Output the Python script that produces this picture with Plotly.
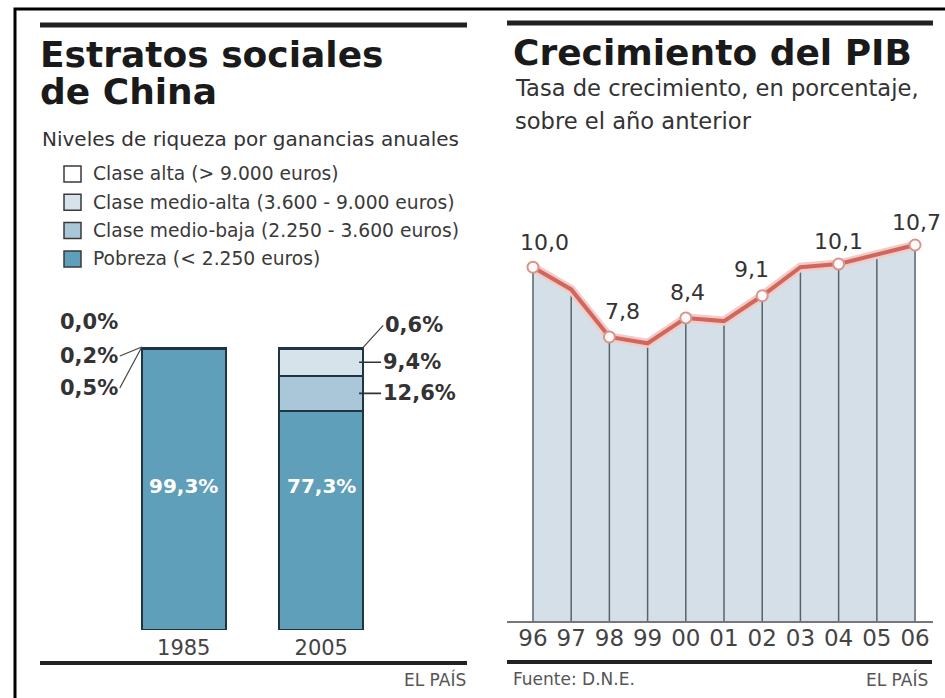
import plotly.graph_objects as go

W, H = 945, 698

# ---------------- data ----------------
bar_years = ["1985", "2005"]
strata_names = ["Pobreza (< 2.250 euros)",
                "Clase medio-baja (2.250 - 3.600 euros)",
                "Clase medio-alta (3.600 - 9.000 euros)",
                "Clase alta (> 9.000 euros)"]
pobreza = [99.3, 77.3]
medio_baja = [0.5, 12.6]
medio_alta = [0.2, 9.4]
alta = [0.0, 0.6]

gdp_years = ["96", "97", "98", "99", "00", "01", "02", "03", "04", "05", "06"]
gdp_growth = [10.0, 9.3, 7.8, 7.6, 8.4, 8.3, 9.1, 10.0, 10.1, 10.4, 10.7]
gdp_labeled = [True, False, True, False, True, False, True, False, True, False, True]

# ---------------- styles ----------------
strata_colors = ["#5f9fba", "#a9c7d9", "#d7e3eb", "#ffffff"]
bar_edge = "#1f3544"
txt = "#2b2b2b"
body_font = "DejaVu Sans"
title_font = "DejaVu Sans"


def fx(p):
    return p / W


def fy(p):
    return 1 - p / H


def fmt(v):
    return f"{v:.1f}".replace(".", ",")


fig = go.Figure()

# ---------------- left: stacked bars ----------------
series = [pobreza, medio_baja, medio_alta, alta]
bar_w = 0.61
for name, vals, col in zip(strata_names, series, strata_colors):
    fig.add_trace(go.Bar(
        x=bar_years, y=vals, name=name, width=bar_w,
        marker=dict(color=col, line=dict(color=bar_edge, width=2)),
        showlegend=False, xaxis="x", yaxis="y", hoverinfo="skip"))

# ---------------- right: GDP growth ----------------
y_lo, y_hi = -1.16, 12.12
n = len(gdp_years)
fig.add_trace(go.Scatter(x=gdp_years, y=[y_lo] * n, mode="lines",
                         line=dict(width=0), showlegend=False,
                         xaxis="x2", yaxis="y2", hoverinfo="skip"))
fig.add_trace(go.Scatter(x=gdp_years, y=gdp_growth, mode="lines",
                         line=dict(width=0), fill="tonexty", fillcolor="#d5dfe7",
                         showlegend=False, xaxis="x2", yaxis="y2", hoverinfo="skip"))
vx, vy = [], []
for yr, v in zip(gdp_years, gdp_growth):
    vx += [yr, yr, None]
    vy += [y_lo, v, None]
fig.add_trace(go.Scatter(x=vx, y=vy, mode="lines",
                         line=dict(color="#56646e", width=1.5),
                         showlegend=False, xaxis="x2", yaxis="y2", hoverinfo="skip"))
fig.add_trace(go.Scatter(x=gdp_years, y=gdp_growth, mode="lines",
                         line=dict(color="#f2cbc6", width=9),
                         showlegend=False, xaxis="x2", yaxis="y2", hoverinfo="skip"))
fig.add_trace(go.Scatter(x=gdp_years, y=gdp_growth, mode="lines",
                         line=dict(color="#cf675e", width=4),
                         showlegend=False, xaxis="x2", yaxis="y2", hoverinfo="skip"))
mx = [yr for yr, f in zip(gdp_years, gdp_labeled) if f]
my = [v for v, f in zip(gdp_growth, gdp_labeled) if f]
mi = [i for i, f in enumerate(gdp_labeled) if f]
fig.add_trace(go.Scatter(x=mx, y=my, mode="markers",
                         marker=dict(size=11, color="#fffafa",
                                     line=dict(color="#d9958d", width=2)),
                         showlegend=False, xaxis="x2", yaxis="y2", hoverinfo="skip"))

annotations = []
# point labels (category index positions)
label_shift = [(12, 25), (13, 25), (2, 25), (-11, 26), (0, 23), (1, 23)]
for i, v, (dx, dy) in zip(mi, my, label_shift):
    annotations.append(dict(x=i, y=v, xref="x2", yref="y2", text=fmt(v),
                            showarrow=False, xshift=dx, yshift=dy,
                            font=dict(family=body_font, size=22, color="#333333")))

# inside bar labels
for i, v in enumerate(pobreza):
    annotations.append(dict(x=i, y=51, xref="x", yref="y", text=fmt(v) + "%",
                            showarrow=False,
                            font=dict(family=body_font, size=20, color="#ffffff", weight="bold")))

lab_font = dict(family=body_font, size=21, color="#333333", weight="bold")
top85 = pobreza[0] + medio_baja[0] + medio_alta[0] + alta[0]
top05 = pobreza[1] + medio_baja[1] + medio_alta[1] + alta[1]
xl = 0 - bar_w / 2
xr = 1 + bar_w / 2
# 1985 small labels
annotations.append(dict(x=xl, y=top85, xref="x", yref="y", text=fmt(alta[0]) + "%",
                        showarrow=False, xanchor="right", xshift=-22, yshift=25,
                        font=lab_font))
annotations.append(dict(x=xl, y=top85, xref="x", yref="y", text=fmt(medio_alta[0]) + "%",
                        showarrow=True, arrowhead=0, arrowwidth=1.2, arrowcolor="#444444",
                        ax=-22, ay=9, xanchor="right", yanchor="middle", standoff=0,
                        font=lab_font))
annotations.append(dict(x=xl, y=top85, xref="x", yref="y", text=fmt(medio_baja[0]) + "%",
                        showarrow=True, arrowhead=0, arrowwidth=1.2, arrowcolor="#444444",
                        ax=-22, ay=41, xanchor="right", yanchor="middle", standoff=0,
                        font=lab_font))
# 2005 labels
annotations.append(dict(x=xr, y=top05, xref="x", yref="y", text=fmt(alta[1]) + "%",
                        showarrow=True, arrowhead=0, arrowwidth=1.2, arrowcolor="#444444",
                        ax=20, ay=-22, xanchor="left", yanchor="middle", standoff=0,
                        font=lab_font))
annotations.append(dict(x=xr - 0.03, y=pobreza[1] + medio_baja[1] + medio_alta[1] / 2,
                        xref="x", yref="y", text=fmt(medio_alta[1]) + "%",
                        showarrow=True, arrowhead=0, arrowwidth=1.6, arrowcolor="#333333",
                        ax=22, ay=0, xanchor="left", yanchor="middle", standoff=0,
                        font=lab_font))
annotations.append(dict(x=xr - 0.03, y=pobreza[1] + medio_baja[1] / 2,
                        xref="x", yref="y", text=fmt(medio_baja[1]) + "%",
                        showarrow=True, arrowhead=0, arrowwidth=1.6, arrowcolor="#333333",
                        ax=22, ay=0, xanchor="left", yanchor="middle", standoff=0,
                        font=lab_font))


# titles & texts (paper coords)
def ptext(text, x, y, size, color=txt, family=body_font, weight="normal", xanchor="left"):
    annotations.append(dict(x=fx(x), y=fy(y), xref="paper", yref="paper", text=text,
                            showarrow=False, xanchor=xanchor, yanchor="middle",
                            font=dict(family=family, size=size, color=color, weight=weight)))


ptext("Estratos sociales", 38, 55, 36, color="#1a1a1a", family=title_font, weight="bold")
ptext("de China", 38, 92, 36, color="#1a1a1a", family=title_font, weight="bold")
ptext("Niveles de riqueza por ganancias anuales", 40, 139, 20, color="#333333")
ptext("Crecimiento del PIB", 511, 53, 36, color="#1a1a1a", family=title_font, weight="bold")
ptext("Tasa de crecimiento, en porcentaje,", 513, 88, 22.6, color="#333333")
ptext("sobre el año anterior", 513, 121, 22.6, color="#333333")
ptext("EL PAÍS", 468, 679, 17, color="#555555", xanchor="right")
ptext("Fuente: D.N.E.", 511, 679, 17, color="#555555")
ptext("EL PAÍS", 930, 679, 17, color="#555555", xanchor="right")

shapes = []
# legend (manual)
leg_rows = [3, 2, 1, 0]
for i, k in enumerate(leg_rows):
    yc = 174 + i * 28.3
    shapes.append(dict(type="rect", xref="paper", yref="paper",
                       x0=fx(64), x1=fx(81), y0=fy(yc + 8), y1=fy(yc - 8),
                       fillcolor=strata_colors[k], line=dict(color="#3a3a3a", width=1.5)))
    ptext(strata_names[k], 91, yc, 18.7, color="#3a3a3a")

# frame and rules
shapes.append(dict(type="rect", xref="paper", yref="paper", x0=fx(15), x1=1.05,
                   y0=-0.05, y1=fy(9), line=dict(color="#000000", width=3)))
for x0, x1, y, w in [(40, 467, 25, 5), (507, 933, 23, 5), (40, 467, 663, 4), (507, 932, 662, 4)]:
    shapes.append(dict(type="line", xref="paper", yref="paper", x0=fx(x0), x1=fx(x1),
                       y0=fy(y), y1=fy(y), line=dict(color="#222222", width=w)))

fig.update_layout(
    width=W, height=H, margin=dict(l=0, r=0, t=0, b=0),
    paper_bgcolor="#ffffff", plot_bgcolor="rgba(0,0,0,0)",
    barmode="stack", showlegend=False,
    annotations=annotations, shapes=shapes,
    xaxis=dict(domain=[fx(115), fx(390)], range=[-0.5, 1.5], type="category",
               showgrid=False, zeroline=False, showline=False, ticks="",
               ticklabelstandoff=3,
               tickfont=dict(family=body_font, size=21, color="#444444"), fixedrange=True),
    yaxis=dict(domain=[fy(630), fy(347)], range=[0, 100], visible=False, fixedrange=True),
    xaxis2=dict(domain=[fx(507), fx(933)], range=[-0.68, 10.47], type="category",
                anchor="y2", showgrid=False, zeroline=False, showline=True,
                linecolor="#777777", linewidth=1.5, ticks="", ticklabelstandoff=-4,
                tickfont=dict(family=body_font, size=23, color="#444444"), fixedrange=True),
    yaxis2=dict(domain=[fy(621), fy(200)], range=[y_lo, y_hi], visible=False,
                anchor="x2", fixedrange=True),
)

fig.write_html("out.html")
